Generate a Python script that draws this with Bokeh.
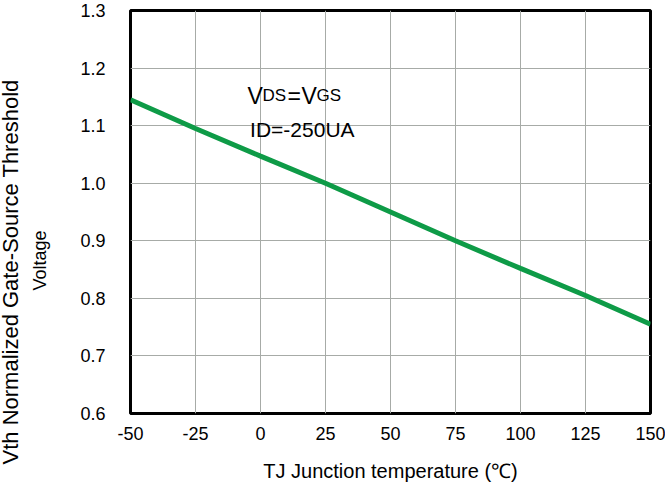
from bokeh.plotting import figure
from bokeh.models import Range1d, FixedTicker, Label, Title
from bokeh.embed import file_html
from bokeh.resources import INLINE

# ---- data ----
temperature = [-50, -25, 0, 25, 50, 75, 100, 125, 150]
vth_norm = [1.145, 1.095, 1.047, 1.0, 0.95, 0.90, 0.852, 0.805, 0.755]

x_ticks = [-50, -25, 0, 25, 50, 75, 100, 125, 150]
x_tick_labels = ["-50", "-25", "0", "25", "50", "75", "100", "125", "150"]
y_ticks = [0.6, 0.7, 0.8, 0.9, 1.0, 1.1, 1.2, 1.3]
y_tick_labels = ["0.6", "0.7", "0.8", "0.9", "1.0", "1.1", "1.2", "1.3"]

x_label = "TJ Junction temperature (\u2103)"
y_label_1 = "Vth Normalized Gate-Source Threshold"
y_label_2 = "Voltage"
note_id = "ID=-250UA"

FONT = "Liberation Sans"

p = figure(width=665, height=484, x_range=Range1d(-50, 150), y_range=Range1d(0.6, 1.3),
           output_backend="svg", toolbar_location=None,
           min_border_left=130, min_border_right=15, min_border_top=10, min_border_bottom=65)

p.outline_line_color = "black"
p.outline_line_width = 3
p.background_fill_color = "white"
p.border_fill_color = "white"

for ax in (p.xaxis, p.yaxis):
    ax.axis_line_color = None
    ax.major_tick_line_color = None
    ax.minor_tick_line_color = None
    ax.major_label_text_font = FONT
    ax.major_label_text_font_size = "18px"
    ax.major_label_text_color = "black"

p.xaxis.ticker = FixedTicker(ticks=x_ticks)
p.yaxis.ticker = FixedTicker(ticks=y_ticks)
p.xaxis.major_label_overrides = {t: l for t, l in zip(x_ticks, x_tick_labels)}
p.yaxis.major_label_overrides = {t: l for t, l in zip(y_ticks, y_tick_labels)}
p.xaxis.major_label_standoff = 7
p.yaxis.major_label_standoff = 19

p.xaxis.axis_label = x_label
p.xaxis.axis_label_text_font = FONT
p.xaxis.axis_label_text_font_size = "20px"
p.xaxis.axis_label_text_font_style = "normal"
p.xaxis.axis_label_text_color = "black"
p.xaxis.axis_label_standoff = 17

p.xgrid.ticker = FixedTicker(ticks=x_ticks)
p.ygrid.ticker = FixedTicker(ticks=y_ticks)
p.grid.grid_line_color = "#a7aba7"
p.grid.grid_line_width = 1

p.line(temperature, vth_norm, line_color="#0e9b47", line_width=5)

# y-axis label (two lines, rotated) as left-side titles
p.add_layout(Title(text=y_label_2, align="left", offset=123, standoff=55,
                   text_font=FONT, text_font_size="18px", text_font_style="normal",
                   text_color="black"), "left")
p.add_layout(Title(text=y_label_1, align="left", offset=-51, standoff=-44,
                   text_font=FONT, text_font_size="22px", text_font_style="normal",
                   text_color="black"), "left")

# annotation V_DS = V_GS
ax0, ay0 = -5, 1.152
parts = [("V", 0, "23px"), ("DS", 15, "17px"), ("=", 40, "23px"),
         ("V", 54, "23px"), ("GS", 69, "17px")]
for txt, off, fs in parts:
    p.add_layout(Label(x=ax0, y=ay0, x_offset=off, text=txt, text_align="left",
                       text_baseline="alphabetic", text_font=FONT,
                       text_font_size=fs, text_color="black"))
p.add_layout(Label(x=-4, y=1.094, text=note_id, text_align="left",
                   text_baseline="alphabetic", text_font=FONT,
                   text_font_size="21px", text_color="black"))

open("out.html", "w").write(file_html(p, INLINE))
